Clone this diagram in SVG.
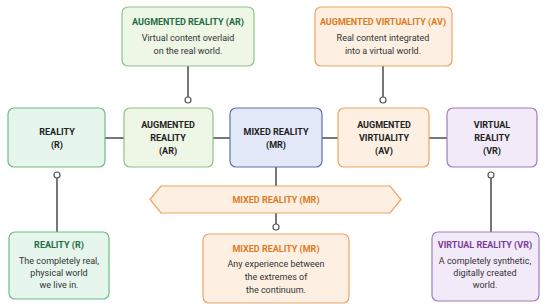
<svg xmlns="http://www.w3.org/2000/svg" width="550" height="308" viewBox="0 0 550 308">
<style>
text{font-family:Roboto,"Noto Sans",sans-serif;text-anchor:middle}
.t{font-weight:bold;font-size:9px}
.n{font-weight:bold;font-size:9px;fill:#222}
.b{font-size:9px;fill:#333}
.ln{stroke:#555;stroke-width:1.6;fill:none}
.dot{fill:#fff;stroke:#555;stroke-width:1.2}
.g1{fill:#e6f6ec;stroke:#6dbb86}
.g2{fill:#eef6e6;stroke:#8cc48a}
.bl{fill:#e3e8f8;stroke:#5a72b5}
.or{fill:#fdf0e2;stroke:#e9a463}
.pu{fill:#f3eaf9;stroke:#a27dbd}
rect{stroke-width:1.2}
</style>
<rect width="550" height="308" fill="#fff"/>
<g id="connectors">
<line class="ln" x1="188" y1="66" x2="188" y2="97"/>
<circle class="dot" cx="188" cy="100" r="3"/>
<line class="ln" x1="383" y1="66" x2="383" y2="97"/>
<circle class="dot" cx="383" cy="100" r="3"/>
<line class="ln" x1="105" y1="138" x2="124" y2="138"/>
<line class="ln" x1="213" y1="138" x2="230" y2="138"/>
<line class="ln" x1="322" y1="138" x2="338" y2="138"/>
<line class="ln" x1="429" y1="138" x2="447" y2="138"/>
<circle class="dot" cx="57" cy="175" r="3"/>
<line class="ln" x1="57" y1="178" x2="57" y2="232"/>
<circle class="dot" cx="491" cy="175" r="3"/>
<line class="ln" x1="491" y1="178" x2="491" y2="232"/>
<line class="ln" x1="276" y1="167" x2="276" y2="186"/>
<line class="ln" x1="276" y1="213" x2="276" y2="224"/>
<circle class="dot" cx="276" cy="227" r="3"/>
</g>
<g id="top-ar">
<rect class="g2" x="122" y="7" width="132" height="59" rx="6"/>
<text class="t" x="188" y="25" fill="#1f6e43">AUGMENTED REALITY (AR)</text>
<text class="b" x="188" y="41">Virtual content overlaid</text>
<text class="b" x="188" y="54">on the real world.</text>
</g>
<g id="top-av">
<rect class="or" x="315" y="7" width="137" height="59" rx="6"/>
<text class="t" x="383" y="25" fill="#e07a22">AUGMENTED VIRTUALITY (AV)</text>
<text class="b" x="383" y="41">Real content integrated</text>
<text class="b" x="383" y="54">into a virtual world.</text>
</g>
<g id="reality">
<rect class="g1" x="8" y="108" width="97" height="59" rx="6"/>
<text class="n" x="57" y="135">REALITY</text>
<text class="n" x="57" y="148">(R)</text>
</g>
<g id="ar">
<rect class="g2" x="124" y="108" width="89" height="59" rx="6"/>
<text class="n" x="168" y="128">AUGMENTED</text>
<text class="n" x="168" y="141">REALITY</text>
<text class="n" x="168" y="154">(AR)</text>
</g>
<g id="mr">
<rect class="bl" x="230" y="108" width="92" height="59" rx="6"/>
<text class="n" x="276" y="135">MIXED REALITY</text>
<text class="n" x="276" y="148">(MR)</text>
</g>
<g id="av">
<rect class="or" x="338" y="108" width="91" height="59" rx="6"/>
<text class="n" x="384" y="128">AUGMENTED</text>
<text class="n" x="384" y="141">VIRTUALITY</text>
<text class="n" x="384" y="154">(AV)</text>
</g>
<g id="vr">
<rect class="pu" x="447" y="108" width="90" height="59" rx="6"/>
<text class="n" x="492" y="128">VIRTUAL</text>
<text class="n" x="492" y="141">REALITY</text>
<text class="n" x="492" y="154">(VR)</text>
</g>
<g id="mr-band">
<polygon points="150,199.5 161,186 390,186 401,199.5 390,213 161,213" fill="#fdf0e2" stroke="#e9a463" stroke-width="1.2"/>
<text class="t" x="276" y="203" fill="#e07a22">MIXED REALITY (MR)</text>
</g>
<g id="bottom-r">
<rect class="g1" x="9" y="232" width="100" height="67" rx="6"/>
<text class="t" x="59" y="248" fill="#1f6e43">REALITY (R)</text>
<text class="b" x="59" y="264">The completely real,</text>
<text class="b" x="59" y="276">physical world</text>
<text class="b" x="59" y="288">we live in.</text>
</g>
<g id="bottom-mr">
<rect class="or" x="203" y="234" width="146" height="69" rx="6"/>
<text class="t" x="276" y="252" fill="#e07a22">MIXED REALITY (MR)</text>
<text class="b" x="276" y="267">Any experience between</text>
<text class="b" x="276" y="280">the extremes of</text>
<text class="b" x="276" y="293">the continuum.</text>
</g>
<g id="bottom-vr">
<rect class="pu" x="432" y="232" width="107" height="69" rx="6"/>
<text class="t" x="485" y="248" fill="#7a3d98">VIRTUAL REALITY (VR)</text>
<text class="b" x="485" y="264">A completely synthetic,</text>
<text class="b" x="485" y="276">digitally created</text>
<text class="b" x="485" y="288">world.</text>
</g>
</svg>
